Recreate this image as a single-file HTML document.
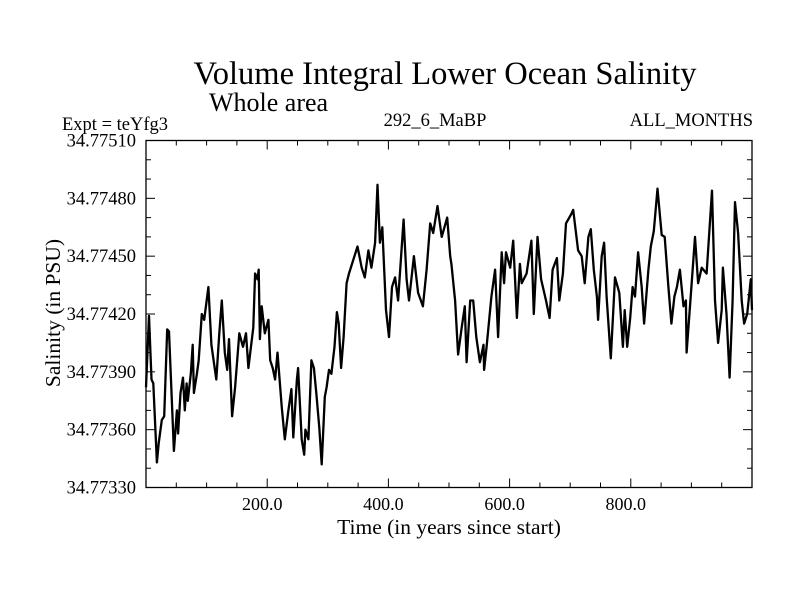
<!DOCTYPE html>
<html><head><meta charset="utf-8"><style>
body{margin:0;background:#fff}
svg{display:block;font-family:"Liberation Serif",serif}
</style></head><body>
<svg id="c" width="800" height="600">
<text x="445" y="84" font-size="32.5" text-anchor="middle">Volume Integral Lower Ocean Salinity</text>
<text x="209" y="111" font-size="26">Whole area</text>
<text x="62" y="130" font-size="18.5">Expt = teYfg3</text>
<text x="435" y="126" font-size="18.5" text-anchor="middle">292_6_MaBP</text>
<text x="753" y="126" font-size="18.5" text-anchor="end">ALL_MONTHS</text>
<text x="449" y="534" font-size="21.5" text-anchor="middle">Time (in years since start)</text>
<text transform="translate(60,313) rotate(-90)" font-size="21.5" text-anchor="middle">Salinity (in PSU)</text>
<g id="axes"></g>
<path id="line" fill="none" stroke="#000" stroke-width="2.3" stroke-linejoin="round"/>
</svg>
<script>
const years=[0,5,9,12,18,21,26,30,35,38,46,51,53,57,61,64,67,69,74,77,79,84,87,92,96,103,108,116,121,125,130,134,137,142,147,154,160,165,169,177,180,184,186,188,191,196,202,205,209,213,217,224,229,235,240,243,249,251,257,261,263,268,273,277,281,286,290,295,298,302,306,311,315,318,322,326,331,335,349,356,361,367,372,378,382,386,390,396,401,406,411,416,425,430,434,442,449,457,463,469,474,481,488,497,502,504,510,515,521,526,529,535,540,545,551,557,558,562,570,576,581,587,591,594,601,606,612,617,620,628,636,640,646,652,660,666,671,678,682,688,693,702,705,713,719,724,730,734,739,744,746,752,756,760,767,774,781,787,790,794,799,803,807,812,818,822,829,833,838,844,851,856,862,867,872,876,881,887,891,892,900,906,911,917,925,934,939,944,950,952,958,963,968,972,977,983,987,992,998,1000];
const salinity=[34.77382,34.77419,34.77386,34.77384,34.77343,34.77353,34.77365,34.77367,34.77412,34.77411,34.77349,34.77370,34.77358,34.77379,34.77387,34.77370,34.77384,34.77375,34.77389,34.77404,34.77379,34.77389,34.77396,34.77420,34.77417,34.77434,34.77404,34.77386,34.77410,34.77427,34.77400,34.77391,34.77407,34.77367,34.77382,34.77410,34.77403,34.77410,34.77392,34.77413,34.77441,34.77438,34.77443,34.77407,34.77424,34.77410,34.77417,34.77396,34.77392,34.77386,34.77400,34.77372,34.77355,34.77370,34.77381,34.77356,34.77386,34.77392,34.77355,34.77347,34.77360,34.77355,34.77396,34.77392,34.77379,34.77361,34.77342,34.77377,34.77382,34.77391,34.77389,34.77403,34.77421,34.77415,34.77392,34.77408,34.77436,34.77441,34.77455,34.77444,34.77439,34.77453,34.77444,34.77457,34.77487,34.77457,34.77465,34.77422,34.77408,34.77434,34.77439,34.77427,34.77469,34.77438,34.77427,34.77450,34.77431,34.77424,34.77443,34.77467,34.77462,34.77476,34.77460,34.77470,34.77450,34.77446,34.77427,34.77399,34.77413,34.77424,34.77395,34.77427,34.77427,34.77408,34.77395,34.77404,34.77391,34.77403,34.77429,34.77443,34.77408,34.77452,34.77436,34.77452,34.77444,34.77458,34.77418,34.77446,34.77436,34.77441,34.77458,34.77420,34.77460,34.77438,34.77427,34.77418,34.77443,34.77449,34.77427,34.77441,34.77467,34.77472,34.77474,34.77453,34.77450,34.77436,34.77460,34.77464,34.77443,34.77429,34.77417,34.77450,34.77457,34.77429,34.77397,34.77439,34.77431,34.77403,34.77422,34.77403,34.77418,34.77434,34.77429,34.77452,34.77434,34.77415,34.77443,34.77455,34.77463,34.77485,34.77461,34.77460,34.77434,34.77415,34.77429,34.77434,34.77443,34.77424,34.77427,34.77400,34.77434,34.77460,34.77436,34.77444,34.77441,34.77484,34.77427,34.77405,34.77422,34.77444,34.77420,34.77387,34.77427,34.77478,34.77462,34.77427,34.77415,34.77420,34.77438,34.77422];
const xTicks=[200,400,600,800];
const xTickLabels=["200.0","400.0","600.0","800.0"];
const yTicks=[34.7733,34.7736,34.7739,34.7742,34.7745,34.7748,34.7751];
const yTickLabels=["34.77330","34.77360","34.77390","34.77420","34.77450","34.77480","34.77510"];
const L=146,R=752,T=140.5,B=487.5,X0=0,X1=1000,Y0=34.7733,Y1=34.7751;
const xs=v=>L+(v-X0)/(X1-X0)*(R-L);
const ys=v=>B-(v-Y0)/(Y1-Y0)*(B-T);
const NS="http://www.w3.org/2000/svg";
const g=document.getElementById('axes');
function mk(t,a){const e=document.createElementNS(NS,t);for(const k in a)e.setAttribute(k,a[k]);g.appendChild(e);return e;}
const frame=mk('rect',{x:L,y:T,width:R-L,height:B-T,fill:'none',stroke:'#000','stroke-width':1.3});


for(let yr=50;yr<X1;yr+=50){const major=yr%200===0;const len=major?9:5;const x=xs(yr);
 const t1=mk('line',{x1:x,x2:x,y1:B,y2:B-len,stroke:'#000','stroke-width':1});
 
 
 const t2=mk('line',{x1:x,x2:x,y1:T,y2:T+len,stroke:'#000','stroke-width':1});
 
 }
for(let i=1;i<18;i++){const v=Y0+i*0.0001;const major=i%3===0;const len=major?9:5;const y=ys(v);
 const t1=mk('line',{x1:L,x2:L+len,y1:y,y2:y,stroke:'#000','stroke-width':1});
 
 
 const t2=mk('line',{x1:R,x2:R-len,y1:y,y2:y,stroke:'#000','stroke-width':1});
 
 }
xTicks.forEach((v,i)=>{const t=mk('text',{x:xs(v)-5,y:510,'font-size':18,'text-anchor':'middle'});t.textContent=xTickLabels[i];
 
 });
yTicks.forEach((v,i)=>{const t=mk('text',{x:136,y:ys(v)+6,'font-size':18.5,'text-anchor':'end'});t.textContent=yTickLabels[i];
 
 });
document.getElementById('line').setAttribute('d',years.map((y,i)=>(i?'L':'M')+xs(y).toFixed(1)+','+ys(salinity[i]).toFixed(1)).join(''));
</script>
</body></html>
